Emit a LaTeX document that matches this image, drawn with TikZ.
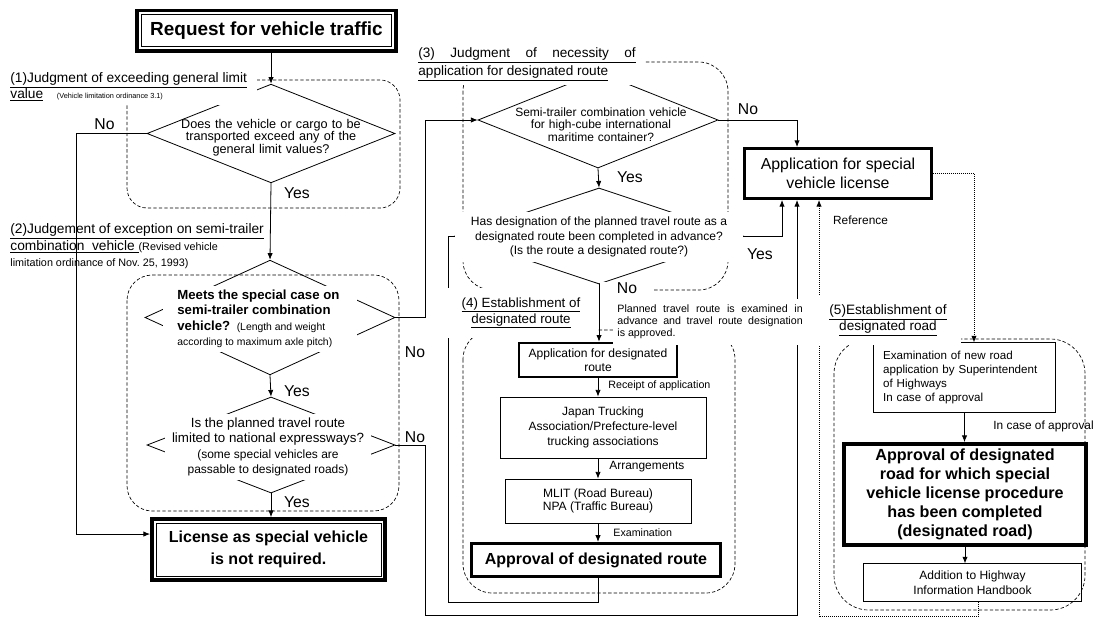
\documentclass[tikz,border=0pt]{standalone}
\usepackage{fontspec}
\setmainfont{Liberation Sans}
\usetikzlibrary{arrows.meta, positioning, shapes.geometric}

\begin{document}
\begin{tikzpicture}[
    x=0.75pt, y=-0.75pt,
    >={Latex[length=5pt,width=4pt]}, line width=0.6pt,
    grp/.style={draw, line width=0.5pt, dash pattern=on 2.5pt off 1.6pt, rounded corners=#1},
    dia/.style={diamond, draw, inner sep=0pt},
    qtxt/.style={fill=white, inner sep=0pt, align=center, execute at begin node=\spaceskip\fontdimen2\font\relax},
    tbox/.style={rectangle, draw, inner sep=0pt, align=center},
    kbox/.style={rectangle, draw, line width=2.2pt, inner sep=0pt, align=center},
    yn/.style={inner sep=0pt, font=\fontsize{11.8}{13}\selectfont},
    ttl/.style={fill=white, inner sep=3pt, font=\fontsize{10.3}{12}\selectfont, execute at begin node=\spaceskip\fontdimen2\font\relax},
    note/.style={inner sep=0pt, font=\fontsize{8}{9.6}\selectfont},
    refline/.style={dash pattern=on 0.7pt off 0.8pt}
]
\useasboundingbox (0,0) rectangle (1094,617);

\draw [grp=15pt] (127,80) rectangle (400,208);
\draw [grp=19pt] (127,275) rectangle (399,511);
\draw [grp=22pt] (463,62) rectangle (728,290);
\draw [grp=22pt] (463,330) rectangle (735,593);
\draw [grp=26pt] (834,339) rectangle (1085,610);

\node [kbox, line width=2.6pt, minimum width=194pt, minimum height=30.5pt, font=\fontsize{14.2}{16}\selectfont\bfseries] (req) at (266.5,30.7) {Request for vehicle traffic};
\draw ([shift={(4.5pt,-4.5pt)}]req.north west) rectangle ([shift={(-4.5pt,4.5pt)}]req.south east);

\node [dia, minimum width=186pt, minimum height=74pt] (d1) at (271,133.5) {};
\node [inner sep=0pt, text width=140pt, align=center, font=\fontsize{9.5}{9.4}\selectfont] (q1) at (271,137.5) {Does the vehicle or cargo to be\\transported exceed any of the\\general limit values?};

\node [dia, minimum width=187.5pt, minimum height=86pt] (d2) at (270,317.5) {};
\node [qtxt, align=left, text width=124pt, minimum width=145pt, minimum height=49pt, font=\fontsize{9.9}{11.6}\selectfont] (q2) at (260,319) {{\bfseries Meets the special case on\\semi-trailer combination\\vehicle?} {\fontsize{7.8}{11.6}\selectfont\spaceskip\fontdimen2\font(Length and weight\\according to maximum axle pitch)}};

\node [dia, minimum width=186pt, minimum height=72pt] (d3) at (271,445) {};
\node [qtxt, text width=155pt, minimum height=50pt, font=\fontsize{10}{11.4}\selectfont] (q3) at (268,447) {Is the planned travel route\\limited to national expressways?\\{\fontsize{9}{11.4}\selectfont\spaceskip\fontdimen2\font(some special vehicles are\\passable to designated roads)}};

\node [kbox, line width=2.6pt, minimum width=175pt, minimum height=46pt, font=\fontsize{12}{16.3}\selectfont\bfseries] (lic) at (268.5,549.5) {License as special vehicle\\is not required.};
\draw ([shift={(4.5pt,-4.5pt)}]lic.north west) rectangle ([shift={(-4.5pt,4.5pt)}]lic.south east);

\node [dia, minimum width=180pt, minimum height=72pt] (d4) at (598,120) {};
\node [inner sep=0pt, text width=140pt, align=center, font=\fontsize{9}{9.4}\selectfont] (q4) at (601,124.5) {Semi-trailer combination vehicle\\for high-cube international\\maritime container?};

\node [dia, minimum width=216pt, minimum height=72pt] (d5) at (599,236) {};
\node [qtxt, text width=216pt, minimum height=37.5pt, font=\fontsize{9.05}{10.9}\selectfont] (q5) at (599,237) {Has designation of the planned travel route as a\\designated route been completed in advance?\\(Is the route a designated route?)};

\node [kbox, minimum width=140pt, minimum height=37.5pt, font=\fontsize{11.9}{13.9}\selectfont] (app) at (838,173.5) {Application for special\\vehicle license};

\node [kbox, line width=1.9pt, minimum width=118.5pt, minimum height=25.5pt, font=\fontsize{9.05}{10.5}\selectfont] (appr) at (598,360) {Application for designated\\route};
\node [tbox, minimum width=154.5pt, minimum height=45.75pt, font=\fontsize{9}{11.25}\selectfont] (jta) at (603,427.5) {Japan Trucking\\Association/Prefecture-level\\trucking associations};
\node [tbox, minimum width=139.5pt, minimum height=33pt, font=\fontsize{9.05}{10}\selectfont] (mlit) at (598,501) {MLIT (Road Bureau)\\NPA (Traffic Bureau)};
\node [kbox, line width=2.4pt, minimum width=187pt, minimum height=24.75pt, font=\fontsize{12}{14}\selectfont\bfseries] (aprt) at (596,560) {Approval of designated route};

\node [tbox, text width=122pt, align=left, minimum width=137pt, minimum height=52pt, font=\fontsize{8.7}{10.7}\selectfont] (exam) at (964.5,377.5) {Examination of new road\\application by Superintendent\\of Highways\\In case of approval};
\node [kbox, line width=2.6pt, minimum width=181.5pt, minimum height=76pt, font=\fontsize{12.1}{14.3}\selectfont\bfseries] (apprd) at (965,494.5) {Approval of designated\\road for which special\\vehicle license procedure\\has been completed\\(designated road)};
\node [tbox, minimum width=163pt, minimum height=28pt, font=\fontsize{9}{11}\selectfont] (add) at (972.5,582.5) {Addition to Highway\\Information Handbook};

\coordinate (lowL) at (425,615);
\coordinate (loopc) at (448,602);
\draw [->] (req.south -| d1.north) -- (d1.north);
\draw [->] (d1.south) -- (d2.north);
\draw [->] (d1.west) -- ++(-70,0) |- ([yshift=11.6pt]lic.west);
\draw [->] (d2.south) -- (d3.north);
\draw [->] (d3.south) -- (d3.south |- lic.north);
\draw [->] (d2.east) -- ++(30,0) |- (d4.west);
\draw [->] (d3.east) -| (lowL) -| ([xshift=-30.75pt]app.south);
\draw [->] (d4.east) -| ([xshift=-30.75pt]app.north);
\draw [->] (d4.south) -- (d5.north);
\draw [->] (d5.east) -| ([xshift=-42pt]app.south);
\draw [->] (appr.south) -- (appr.south |- jta.north);
\draw [->] (appr.south |- jta.south) -- (appr.south |- mlit.north);
\draw [->] (appr.south |- mlit.south) -- (appr.south |- aprt.north);
\draw (appr.south |- aprt.south) |- (loopc) |- (d5.west);
\draw [refline, ->] (app.east) -| ([xshift=7.1pt]exam.north);
\draw [->] (exam.south) -- (exam.south |- apprd.north);
\draw [->] (apprd.south) -- (apprd.south |- add.north);
\draw [refline, ->] ([xshift=4.1pt]add.south) -- ++(0,15) -| ([xshift=-14.25pt]app.south);

\node [ttl, anchor=north west, text width=182pt, align=left] (t1) at (6,68) {\underline{(1)Judgment of exceeding general limit}\\\underline{value}\quad{\fontsize{5.5}{12}\selectfont\spaceskip\fontdimen2\font(Vehicle limitation ordinance 3.1)}};
\node [ttl, fill=none, anchor=north west, text width=190pt, align=left] (t2) at (6,219) {\underline{(2)Judgement of exception on semi-trailer}\\\underline{combination\ \ vehicle\ }{\fontsize{8.1}{11.6}\selectfont\spaceskip\fontdimen2\font(Revised vehicle\\limitation ordinance of Nov.\ 25, 1993)}};
\node [ttl, anchor=north west, text width=166pt, align=left, font=\fontsize{10.2}{13.5}\selectfont] (t3) at (414,43) {\underline{\makebox[163pt]{(3)\hfill Judgment\hfill of\hfill necessity\hfill of}}\\\underline{application for designated route}};
\node [ttl, text width=109pt, align=center, minimum height=37.5pt, font=\fontsize{10}{12}\selectfont] (t4) at (521,313) {\underline{(4) Establishment of}\\\underline{designated route}};
\node [note, fill=white, anchor=north west, inner xsep=3pt, inner ysep=4pt, text width=139pt, align=justify, font=\fontsize{8}{9.2}\selectfont] (pln) at (613,299) {Planned travel route is examined in\linebreak advance and travel route designation\linebreak is approved.};
\node [ttl, text width=104pt, align=center, minimum height=37.5pt, font=\fontsize{10.2}{12}\selectfont] (t5) at (888,320) {\underline{(5)Establishment of}\\\underline{designated road}};

\node [yn, fill=white, minimum width=40pt, inner ysep=1pt] (n5) at (627,288.5) {No};
\draw [->] (d5.south) -- (d5.south |- appr.north);

\node [yn] (n1) at (104.5,124) {No};
\node [yn] (y1) at (297,193.5) {Yes};
\node [yn] (y2) at (297,391) {Yes};
\node [yn] (y3) at (297,502.5) {Yes};
\node [yn] (n2) at (415,352) {No};
\node [yn] (n3) at (415,437) {No};
\node [yn] (n4) at (748,109) {No};
\node [yn] (y4) at (630,177.5) {Yes};
\node [yn] (y5) at (760,254) {Yes};

\node [note, anchor=west] (rcpt) at (608,386) {Receipt of application};
\node [note, anchor=west, font=\fontsize{8.95}{10}\selectfont] (arrg) at (609,467) {Arrangements};
\node [note, anchor=west] (exmn) at (613,533) {Examination};
\node [note, anchor=west, font=\fontsize{8.9}{10}\selectfont] (ica) at (993,426) {In case of approval};
\node [note, font=\fontsize{8.9}{10}\selectfont] (refn) at (860.5,220) {Reference};

\end{tikzpicture}
\end{document}
